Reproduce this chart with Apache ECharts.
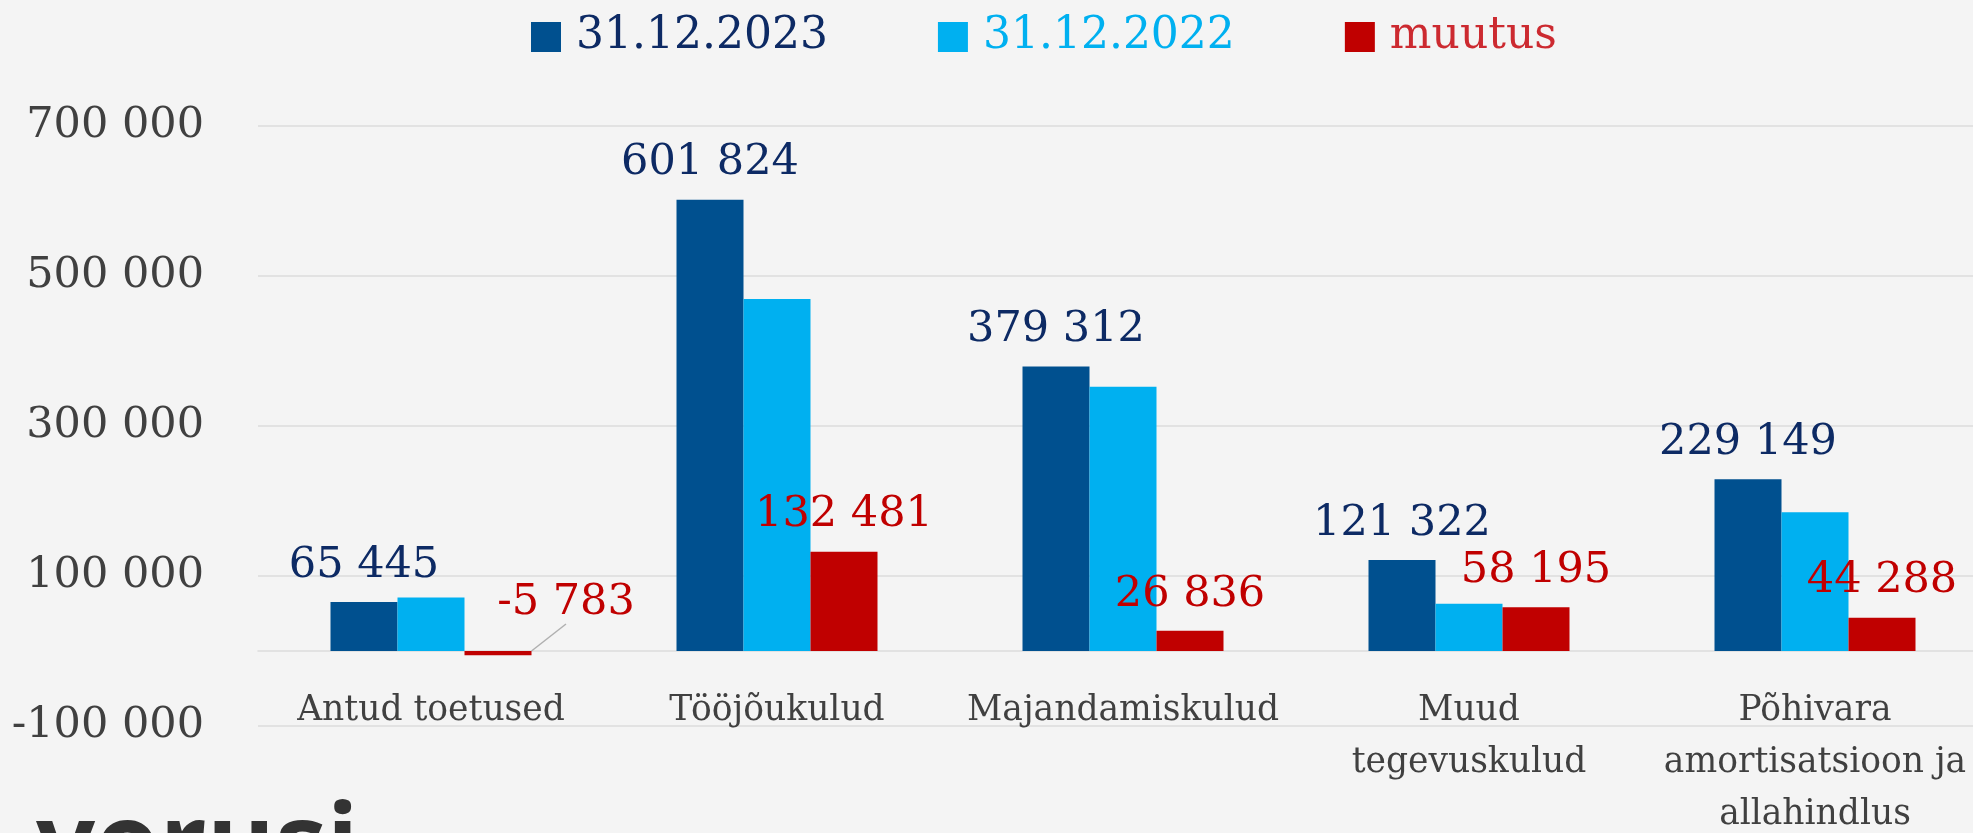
<!DOCTYPE html>
<html>
<head>
<meta charset="utf-8">
<script src="https://cdn.jsdelivr.net/npm/echarts@6/dist/echarts.min.js"></script>
<style>
  html, body { margin: 0; padding: 0; background: #f4f4f4; }
  #chart { width: 1973px; height: 833px; }
</style>
</head>
<body>
<div id="chart"></div>
<script>
const categories = [
  'Antud toetused',
  'Tööjõukulud',
  'Majandamiskulud',
  'Muud\ntegevuskulud',
  'Põhivara\namortisatsioon ja\nallahindlus'
]
const values2023 = [65445, 601824, 379312, 121322, 229149]
const values2022 = [71228, 469343, 352476, 63127, 184861]
const valuesChange = [-5783, 132481, 26836, 58195, 44288]

const SERIF = '"DejaVu Serif", serif'
const DARK_BLUE = '#00508f'
const LIGHT_BLUE = '#00b0f0'
const RED = '#c00000'
const NAVY = '#0d2a64'

const fmt = v => {
  const s = String(Math.abs(v)).replace(/\B(?=(\d{3})+(?!\d))/g, ' ')
  return (v < 0 ? '-' : '') + s
}

const chart = echarts.init(document.getElementById('chart'))

chart.setOption({
  backgroundColor: '#f4f4f4',
  animation: false,
  legend: {
    left: 526,
    top: 10,
    icon: 'rect',
    itemWidth: 30,
    itemHeight: 30,
    itemGap: 110,
    textStyle: { fontFamily: SERIF, fontSize: 44, padding: [0, 0, 0, 10] },
    data: [
      { name: '31.12.2023', textStyle: { color: NAVY } },
      { name: '31.12.2022', textStyle: { color: LIGHT_BLUE } },
      { name: 'muutus', textStyle: { color: '#cc2a30' } }
    ]
  },
  grid: { left: 258, right: -15, top: 126, bottom: 107, outerBoundsMode: 'none' },
  xAxis: {
    type: 'category',
    data: categories,
    axisLine: { lineStyle: { color: '#dcdcdc', width: 1.5 } },
    axisTick: { show: false },
    axisLabel: {
      interval: 0,
      margin: -41,
      fontFamily: SERIF,
      fontSize: 34.5,
      lineHeight: 52,
      color: '#404040'
    }
  },
  yAxis: {
    type: 'value',
    min: -100000,
    max: 700000,
    interval: 200000,
    axisLine: { show: false },
    axisTick: { show: false },
    splitLine: { lineStyle: { color: '#dcdcdc', width: 1.5 } },
    axisLabel: {
      margin: 54,
      fontFamily: SERIF,
      fontSize: 43,
      color: '#404040',
      formatter: fmt
    }
  },
  series: [
    {
      name: '31.12.2023',
      type: 'bar',
      data: values2023,
      barWidth: 67,
      barGap: '0%',
      itemStyle: { color: DARK_BLUE },
      label: {
        show: true,
        position: 'top',
        distance: 15,
        fontFamily: SERIF,
        fontSize: 43,
        color: NAVY,
        formatter: p => fmt(p.value)
      }
    },
    {
      name: '31.12.2022',
      type: 'bar',
      data: values2022,
      barWidth: 67,
      barGap: '0%',
      itemStyle: { color: LIGHT_BLUE }
    },
    {
      name: 'muutus',
      type: 'bar',
      // only the negative value has its label pulled aside with a leader line
      data: valuesChange.map(v => (v < 0 ? { value: v, labelLine: { show: true } } : v)),
      barWidth: 67,
      barGap: '0%',
      itemStyle: { color: RED },
      label: {
        show: true,
        position: 'top',
        distance: 15,
        fontFamily: SERIF,
        fontSize: 43,
        color: RED,
        formatter: p => fmt(p.value)
      },
      labelLine: {
        show: false,
        lineStyle: { color: '#b0b0b0', width: 1.5 }
      },
      labelLayout: p => (valuesChange[p.dataIndex] < 0 ? { dx: 68, dy: -12 } : {})
    }
  ],
  graphic: [
    {
      type: 'text',
      left: 36,
      top: 796,
      silent: true,
      style: {
        text: 'vorusi',
        font: '700 104px "Open Sans", sans-serif',
        fill: '#333333'
      }
    }
  ]
})
</script>
</body>
</html>
